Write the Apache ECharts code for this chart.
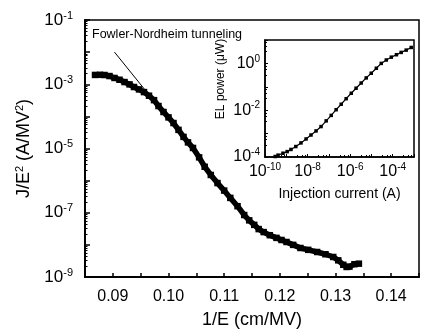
<!DOCTYPE html>
<html>
<head>
<meta charset="utf-8">
<script src="https://cdn.jsdelivr.net/npm/echarts@6/dist/echarts.min.js"></script>
<style>
html,body{margin:0;padding:0;background:#fff;}
#chart{width:422px;height:335px;}
</style>
</head>
<body>
<div id="chart"></div>
<script>
// Main plot: J/E^2 vs 1/E
var invE = [0.0868,0.0877,0.0885,0.0894,0.0903,0.0912,0.0921,0.0930,0.0938,0.0947,0.0956,0.0965,0.0974,0.0982,0.0991,0.1000,0.1009,0.1018,0.1027,0.1035,0.1044,0.1055,0.1065,0.1076,0.1088,0.1100,0.1111,0.1124,0.1136,0.1145,0.1154,0.1162,0.1171,0.1182,0.1194,0.1203,0.1212,0.1224,0.1237,0.1251,0.1267,0.1282,0.1296,0.1305,0.1314,0.1320,0.1325,0.1334,0.1342];
var jOverE2 = [1.95e-3,1.97e-3,1.94e-3,1.80e-3,1.57e-3,1.38e-3,1.17e-3,9.9e-4,8.2e-4,6.9e-4,5.7e-4,4.4e-4,3.2e-4,2.1e-4,1.37e-4,9.3e-5,6.2e-5,3.8e-5,2.3e-5,1.55e-5,1.04e-5,5.3e-6,2.7e-6,1.5e-6,8.4e-7,4.9e-7,2.9e-7,1.6e-7,8.5e-8,5.8e-8,4.2e-8,3.1e-8,2.5e-8,2.0e-8,1.65e-8,1.42e-8,1.23e-8,1.0e-8,8.0e-9,7.0e-9,6.0e-9,5.1e-9,4.2e-9,3.3e-9,2.4e-9,2.05e-9,2.1e-9,2.5e-9,2.6e-9];
// Fowler-Nordheim guide line
var fnX = [0.0903, 0.0961];
var fnY = [1.0e-2, 5.7e-4];
// Inset: EL power vs injection current
var injCurrent = [3.0e-10,4.1e-10,7.0e-10,1.1e-9,1.66e-9,2.8e-9,4.9e-9,8.5e-9,1.45e-8,2.5e-8,4.3e-8,7.5e-8,1.29e-7,2.2e-7,3.8e-7,6.5e-7,1.13e-6,1.9e-6,3.3e-6,5.7e-6,9.8e-6,1.7e-5,2.9e-5,5.0e-5,8.6e-5,1.5e-4,2.5e-4,4.3e-4,7.4e-4];
var elPower = [1.05e-4,1.2e-4,1.45e-4,1.7e-4,2.1e-4,2.8e-4,4.0e-4,5.9e-4,8.7e-4,1.3e-3,2.0e-3,3.5e-3,6.0e-3,1.05e-2,1.8e-2,3.1e-2,5.3e-2,8.7e-2,0.145,0.24,0.38,0.62,1.0,1.4,1.85,2.35,2.95,3.7,4.8];

var FONT = 'Liberation Sans, Arial, sans-serif';
function zip(a, b){ return a.map(function(v,i){ return [v, b[i]]; }); }
function expOf(v){ return Math.round(Math.log(v)/Math.LN10); }
function powLabel(keepOdd){
  return function(v){
    var e = expOf(v);
    var odd = Math.abs(e) % 2 === 1;
    if (odd !== keepOdd) return '';
    return '{b|10}{s|' + e + '}';
  };
}
var richMain = {
  b:{fontSize:17, fontFamily:FONT, color:'#000'},
  s:{fontSize:11, fontFamily:FONT, color:'#000', padding:[0,0,9,0]}
};
var richInset = {
  b:{fontSize:16, fontFamily:FONT, color:'#000'},
  s:{fontSize:10, fontFamily:FONT, color:'#000', padding:[0,0,9,0]}
};

var chart = echarts.init(document.getElementById('chart'), null, {renderer:'canvas'});
chart.setOption({
  animation:false,
  backgroundColor:'#fff',
  grid:[
    {left:85, top:20, right:-3, bottom:58, show:true, borderColor:'#000', borderWidth:1.5, backgroundColor:'transparent'},
    {left:265, top:40, width:149, height:117, show:true, borderColor:'#000', borderWidth:1.5, backgroundColor:'#fff'}
  ],
  xAxis:[
    {
      gridIndex:0, type:'value', min:0.085, max:0.145, interval:0.005,
      axisLine:{show:true, lineStyle:{color:'#000', width:2}},
      axisTick:{show:true, inside:true, length:4, lineStyle:{color:'#000', width:1.5}},
      splitLine:{show:false},
      axisLabel:{
        color:'#000', fontSize:16, fontFamily:FONT, margin:12,
        formatter:function(v){ var k = Math.round(v*1000); return (k % 10 === 0) ? v.toFixed(2) : ''; }
      },
      name:'1/E (cm/MV)', nameLocation:'middle', nameGap:34,
      nameTextStyle:{color:'#000', fontSize:18, fontFamily:FONT}
    },
    {
      gridIndex:1, type:'log', logBase:10, min:1e-10, max:1e-3, interval:1,
      axisLine:{show:true, lineStyle:{color:'#000', width:1.5}},
      axisTick:{show:true, inside:true, length:3, lineStyle:{color:'#000'}},
      minorTick:{show:true, splitNumber:4, length:2, lineStyle:{color:'#000'}},
      splitLine:{show:false}, minorSplitLine:{show:false},
      axisLabel:{color:'#000', margin:5, formatter:powLabel(false), rich:richInset, showMinLabel:true, showMaxLabel:true},
      name:'Injection current (A)', nameLocation:'middle', nameGap:30,
      nameTextStyle:{color:'#000', fontSize:14, fontFamily:FONT}
    }
  ],
  yAxis:[
    {
      gridIndex:0, type:'log', logBase:10, min:1e-9, max:1e-1, interval:1,
      axisLine:{show:true, lineStyle:{color:'#000', width:2}},
      axisTick:{show:true, inside:true, length:5, lineStyle:{color:'#000', width:1.5}},
      minorTick:{show:true, splitNumber:8, length:2.5, lineStyle:{color:'#000'}},
      splitLine:{show:false}, minorSplitLine:{show:false},
      axisLabel:{color:'#000', margin:12, formatter:powLabel(true), rich:richMain, showMinLabel:true, showMaxLabel:true},
      name:'J/E{s|2} (A/MV{s|2})', nameLocation:'middle', nameGap:47,
      nameTextStyle:{color:'#000', fontSize:18, fontFamily:FONT,
        rich:{s:{fontSize:11, fontFamily:FONT, color:'#000', padding:[0,0,9,0]}}}
    },
    {
      gridIndex:1, type:'log', logBase:10, min:1e-4, max:10, interval:1,
      axisLine:{show:true, lineStyle:{color:'#000', width:1.5}},
      axisTick:{show:true, inside:true, length:3, lineStyle:{color:'#000'}},
      minorTick:{show:true, splitNumber:4, length:2, lineStyle:{color:'#000'}},
      splitLine:{show:false}, minorSplitLine:{show:false},
      axisLabel:{color:'#000', margin:5, formatter:powLabel(false), rich:richInset, showMinLabel:true}
    }
  ],
  graphic:[
    {type:'text', left:92, top:28, style:{text:'Fowler-Nordheim tunneling', fill:'#000', font:'12.5px ' + FONT}},
    {type:'text', x:221, y:79, rotation:Math.PI/2, style:{text:'EL power (\u03bcW)', fill:'#000', font:'12px ' + FONT, textAlign:'center', textVerticalAlign:'middle'}}
  ],
  series:[
    {
      type:'line', xAxisIndex:0, yAxisIndex:0, data:zip(invE, jOverE2),
      symbol:'rect', symbolSize:6.5, showSymbol:true,
      itemStyle:{color:'#000'}, lineStyle:{color:'#000', width:5.5}, z:3
    },
    {
      type:'line', xAxisIndex:0, yAxisIndex:0, data:zip(fnX, fnY),
      symbol:'none', lineStyle:{color:'#000', width:1}, z:2
    },
    {
      type:'line', xAxisIndex:1, yAxisIndex:1, data:zip(injCurrent, elPower),
      symbol:'rect', symbolSize:3.5, showSymbol:true,
      itemStyle:{color:'#000'}, lineStyle:{color:'#000', width:1.2}, z:4
    }
  ]
});
</script>
</body>
</html>
